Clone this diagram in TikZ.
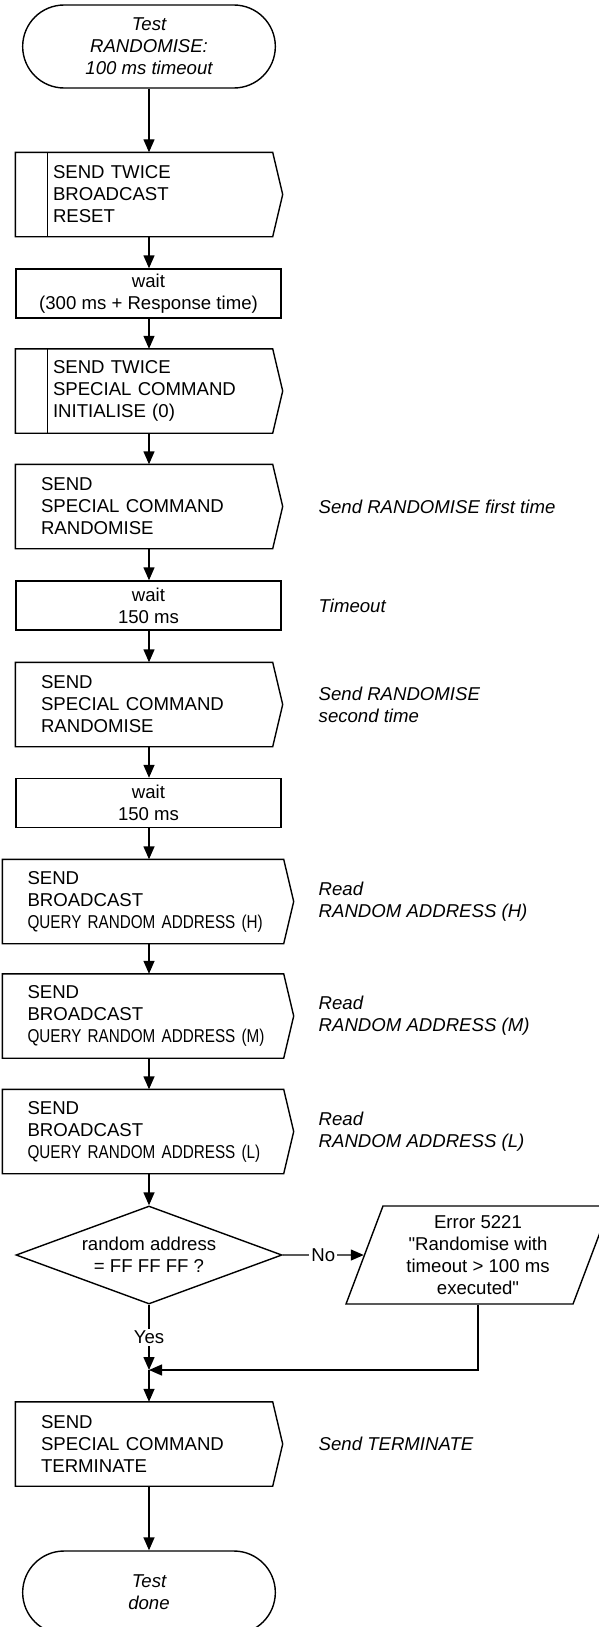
\documentclass[tikz,border=0pt]{standalone}
\usepackage{fontspec}
\setmainfont{Liberation Sans}
\newfontfamily\narrowfont[FakeStretch=0.82]{Liberation Sans}
\usetikzlibrary{arrows.meta, shapes.geometric, shapes.misc}
\newcommand{\flowfont}{\fontsize{9.3pt}{11pt}\selectfont}
\newcommand{\query}[1]{\mbox{\narrowfont QUERY RANDOM ADDRESS (#1)}}
\tikzset{
  terminal/.style={rounded rectangle, draw, minimum width=133pt, minimum height=41.5pt, align=center, font=\flowfont\itshape},
  sendbox/.style={rectangle, text width=103pt, inner xsep=12.5pt, inner ysep=2pt, minimum height=41.5pt, align=left},
  twicebox/.style={sendbox, execute at begin node={\leftskip=6pt}},
  widebox/.style={sendbox, text width=115.5pt, inner xsep=12.25pt},
  waitbox/.style={rectangle, draw, minimum width=132.5pt, minimum height=24.5pt, inner sep=1pt, align=center},
  decision/.style={diamond, draw, aspect=2.7, minimum width=133pt, minimum height=49pt, inner sep=0pt, align=center},
  errbox/.style={trapezium, draw, trapezium left angle=71, trapezium right angle=109, trapezium stretches=true,
    minimum width=132pt, minimum height=49pt, inner sep=1pt, align=center},
  note/.style={anchor=west, inner sep=0pt, align=left, font=\flowfont\itshape},
  flow/.style={-{Triangle[width=5.5pt,length=6.5pt]}},
  answer/.style={fill=white, inner sep=1pt}
}

\begin{document}
\begin{tikzpicture}[x=0.5pt, y=-0.5pt, line width=0.7pt, font=\flowfont]
  \useasboundingbox (0,0) rectangle (599,1627);
  \coordinate (spine) at (149,0);
  \node[terminal] (start) at (149,46.5) {Test\\RANDOMISE:\\100 ms timeout};
  \node[twicebox] (b1) at (144,194.5) {SEND TWICE\\BROADCAST\\RESET};
  \node[waitbox] (b2) at (148.5,293.5) {wait\\(300 ms + Response time)};
  \node[twicebox] (b3) at (144,391) {SEND TWICE\\SPECIAL COMMAND\\INITIALISE (0)};
  \node[sendbox] (b4) at (144,506.5) {SEND\\SPECIAL COMMAND\\RANDOMISE};
  \node[waitbox] (b5) at (148.5,605.5) {wait\\150 ms};
  \node[sendbox] (b6) at (144,704.5) {SEND\\SPECIAL COMMAND\\RANDOMISE};
  \node[waitbox] (b7) at (148.5,803) {wait\\150 ms};
  \node[widebox] (b8) at (143,901.5) {SEND\\BROADCAST\\\query{H}};
  \node[widebox] (b9) at (143,1016) {SEND\\BROADCAST\\\query{M}};
  \node[widebox] (b10) at (143,1131.5) {SEND\\BROADCAST\\\query{L}};
  \node[decision] (dec) at (149,1255) {random address\\= FF FF FF ?};
  \node[errbox] (err) at (478,1255) {Error 5221\\\textquotedbl Randomise with\\timeout > 100 ms\\executed\textquotedbl};
  \coordinate (join) at (149,1370);
  \node[sendbox] (b11) at (144,1444) {SEND\\SPECIAL COMMAND\\TERMINATE};
  \node[terminal] (stop) at (149,1592.5) {Test\\done};
  % send boxes: flat left side, pointed right side; "twice" boxes get an extra bar
  \foreach \bx in {b1,b3,b4,b6,b8,b9,b10,b11}
    \draw (\bx.north west) -- (\bx.north east) -- ([xshift=5pt]\bx.east)
      -- (\bx.south east) -- (\bx.south west) -- cycle;
  \foreach \bx in {b1,b3}
    \draw ([xshift=16pt]\bx.north west) -- ([xshift=16pt]\bx.south west);
  \foreach \src/\dst in {start/b1, b1/b2, b2/b3, b3/b4, b4/b5, b5/b6, b6/b7, b7/b8, b8/b9, b9/b10, b10/dec}
    \draw[flow] (\src.south -| spine) -- (\dst.north -| spine);
  \draw[flow] (dec) -- node[answer] {No} (err);
  \draw[flow] (dec) -- node[answer] {Yes} (join);
  \draw[flow] (err.south) |- (join);
  \draw[flow] (join) -- (b11.north -| spine);
  \draw[flow] (b11.south -| spine) -- (stop.north);
  \foreach \nm/\yy/\txt in {c4/506.5/{Send RANDOMISE first time}, c5/605.5/{Timeout},
      c6/704.5/{Send RANDOMISE\\second time}, c8/901.5/{Read\\RANDOM ADDRESS (H)},
      c9/1016/{Read\\RANDOM ADDRESS (M)}, c10/1131.5/{Read\\RANDOM ADDRESS (L)},
      c11/1444/{Send TERMINATE}}
    \node[note] (\nm) at (318,\yy) {\txt};
\end{tikzpicture}
\end{document}
